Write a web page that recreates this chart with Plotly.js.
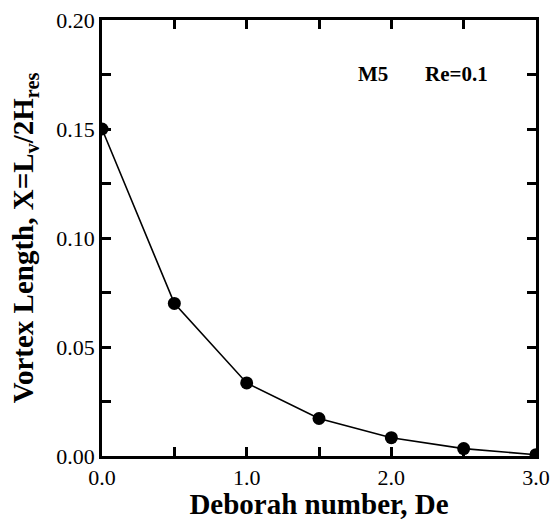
<!DOCTYPE html>
<html>
<head>
<meta charset="utf-8">
<script src="https://cdn.plot.ly/plotly-3.0.1.min.js"></script>
<style>html,body{margin:0;padding:0;background:#fff;}#chart{width:554px;height:520px;}</style>
</head>
<body>
<div id="chart"></div>
<script>
// Data
const deborah = [0.0, 0.5, 1.0, 1.5, 2.0, 2.5, 3.0];
const vortexLength = [0.150, 0.070, 0.0335, 0.0172, 0.0084, 0.0034, 0.0006];
// Tick positions and labels
const xTickVals = [0, 0.5, 1, 1.5, 2, 2.5, 3];
const xTickText = ["0.0", "", "1.0", "", "2.0", "", "3.0"];
const yTickVals = [0, 0.025, 0.05, 0.075, 0.1, 0.125, 0.15, 0.175, 0.2];
const yTickText = ["0.00", "", "0.05", "", "0.10", "", "0.15", "", "0.20"];
const xTitle = "<b>Deborah number, De</b>";
const yTitle = "<b>Vortex Length, X=L<sub>v</sub>/2H<sub>res</sub></b>";
const label1 = "<b>M5</b>";
const label2 = "<b>Re=0.1</b>";

const traces = [{
  x: deborah, y: vortexLength, type: "scatter", mode: "lines+markers",
  line: {color: "#000", width: 1.6}, marker: {color: "#000", size: 13}, showlegend: false
}];

const layout = {
  width: 554, height: 520,
  margin: {l: 102, r: 18, t: 20, b: 64},
  font: {family: "Liberation Serif", color: "#000", size: 24},
  xaxis: {
    range: [0, 3], tickmode: "array", tickvals: xTickVals, ticktext: xTickText,
    ticks: "inside", ticklen: 9, tickwidth: 2.5, tickcolor: "#000",
    mirror: "allticks", showline: true, linewidth: 2.5, linecolor: "#000",
    showgrid: false, zeroline: false,
    tickfont: {family: "Liberation Serif", size: 22, color: "#000"},
    title: {text: xTitle}
  },
  yaxis: {
    range: [0, 0.2], tickmode: "array", tickvals: yTickVals, ticktext: yTickText,
    ticks: "inside", ticklen: 9, tickwidth: 2.5, tickcolor: "#000",
    mirror: "allticks", showline: true, linewidth: 2.5, linecolor: "#000",
    showgrid: false, zeroline: false,
    tickfont: {family: "Liberation Serif", size: 22, color: "#000"},
    title: {text: yTitle}
  },
  annotations: [
    {text: label1, xref: "paper", yref: "paper", x: 0.625, y: 0.876, xanchor: "center", yanchor: "middle",
     showarrow: false, font: {family: "Liberation Serif", size: 21, color: "#000"}},
    {text: label2, xref: "paper", yref: "paper", x: 0.816, y: 0.876, xanchor: "center", yanchor: "middle",
     showarrow: false, font: {family: "Liberation Serif", size: 21, color: "#000"}}
  ]
};

Plotly.newPlot("chart", traces, layout, {displayModeBar: false});
</script>
</body>
</html>
